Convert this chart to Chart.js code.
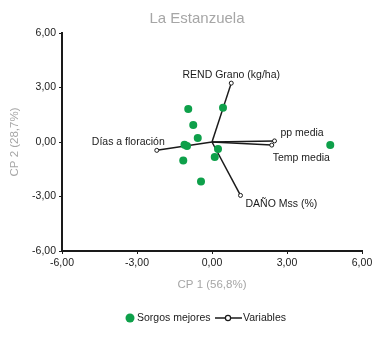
<!DOCTYPE html>
<html>
<head>
<meta charset="utf-8">
<script src="https://cdn.jsdelivr.net/npm/chart.js@4.4.1/dist/chart.umd.min.js"></script>
<style>
  html, body { margin: 0; padding: 0; background: #fff; }
  #wrap { width: 384px; height: 337px; }
</style>
</head>
<body>
<div id="wrap"><canvas id="biplot" width="384" height="337"></canvas></div>
<script>
/* ── Data ─────────────────────────────────── */
// scores of the selected sorghums (CP 1, CP 2)
const scoreX = [-0.95, 0.44, -0.75, -0.57, -1.10, -1.00, 0.24, 0.11, -1.15, -0.44, 4.73];
const scoreY = [1.82, 1.89, 0.94, 0.22, -0.15, -0.22, -0.39, -0.83, -1.02, -2.17, -0.17];

// variable loadings
const varNames = ['REND Grano (kg/ha)', 'pp media', 'Temp media', 'DAÑO Mss (%)', 'Días a floración'];
const varX = [0.77, 2.50, 2.39, 1.14, -2.21];
const varY = [3.24, 0.06, -0.17, -2.94, -0.46];

const axisTicks = [-6, -3, 0, 3, 6];

/* ── Styling ──────────────────────────────── */
const GREEN = '#0ea04a';
const INK = '#1a1a1a';
const GREY = '#a6a6a6';
const FONT = "'Liberation Sans', Arial, sans-serif";
// label offset (px) from the arrow tip and text alignment
const labelPlace = [
    { dx: 0, dy: -8, align: 'center' },
    { dx: 6, dy: -8, align: 'left' },
    { dx: 1, dy: 13, align: 'left' },
    { dx: 5, dy: 9, align: 'left' },
    { dx: 8, dy: -8, align: 'right' }
];

const fmtTick = v => v.toFixed(2).replace('.', ',');

/* ── Datasets ─────────────────────────────── */
const datasets = [{
    label: 'Sorgos mejores',
    type: 'scatter',
    data: scoreX.map((x, i) => ({ x, y: scoreY[i] })),
    backgroundColor: GREEN,
    borderColor: GREEN,
    pointRadius: 4,
    borderWidth: 0
}];
varNames.forEach((name, i) => {
    datasets.push({
        label: name,
        type: 'line',
        data: [{ x: 0, y: 0 }, { x: varX[i], y: varY[i] }],
        borderColor: INK,
        borderWidth: 1.5,
        pointRadius: [0, 2],
        pointBackgroundColor: '#fff',
        pointBorderColor: INK,
        pointBorderWidth: 1,
        fill: false
    });
});

/* ── Plugins ──────────────────────────────── */
const headline = {
    id: 'headline',
    afterDraw(chart) {
        const { ctx } = chart;
        ctx.save();
        ctx.font = `15px ${FONT}`;
        ctx.fillStyle = GREY;
        ctx.textAlign = 'center';
        ctx.textBaseline = 'middle';
        ctx.fillText('La Estanzuela', 197, 19);
        ctx.restore();
    }
};

const varLabels = {
    id: 'varLabels',
    afterDatasetsDraw(chart) {
        const { ctx, scales: { x, y } } = chart;
        ctx.save();
        ctx.font = `10.5px ${FONT}`;
        ctx.fillStyle = INK;
        ctx.textBaseline = 'middle';
        varNames.forEach((name, i) => {
            const p = labelPlace[i];
            ctx.textAlign = p.align;
            ctx.fillText(name, x.getPixelForValue(varX[i]) + p.dx, y.getPixelForValue(varY[i]) + p.dy);
        });
        ctx.restore();
    }
};

const legendRow = {
    id: 'legendRow',
    afterDraw(chart) {
        const { ctx } = chart;
        const yMid = 318;
        ctx.save();
        ctx.font = `10.5px ${FONT}`;
        ctx.textBaseline = 'middle';
        ctx.textAlign = 'left';

        ctx.beginPath();
        ctx.arc(130, yMid, 4.5, 0, Math.PI * 2);
        ctx.fillStyle = GREEN;
        ctx.fill();
        ctx.fillStyle = INK;
        ctx.fillText('Sorgos mejores', 137, yMid);

        ctx.strokeStyle = INK;
        ctx.lineWidth = 1.5;
        ctx.beginPath();
        ctx.moveTo(215, yMid);
        ctx.lineTo(242, yMid);
        ctx.stroke();
        ctx.beginPath();
        ctx.arc(228, yMid, 2.6, 0, Math.PI * 2);
        ctx.fillStyle = '#fff';
        ctx.fill();
        ctx.lineWidth = 1.2;
        ctx.stroke();
        ctx.fillStyle = INK;
        ctx.fillText('Variables', 243, yMid);
        ctx.restore();
    }
};

/* ── Chart ────────────────────────────────── */
const axisBase = {
    type: 'linear',
    min: -6,
    max: 6,
    afterBuildTicks: s => { s.ticks = axisTicks.map(v => ({ value: v })); },
    border: { color: INK, width: 2 },
    grid: { drawOnChartArea: false, drawTicks: true, tickLength: 3, color: INK },
    ticks: { color: INK, padding: 3, font: { family: FONT, size: 10.5 }, callback: v => fmtTick(v) }
};

new Chart(document.getElementById('biplot'), {
    data: { datasets },
    options: {
        responsive: false,
        animation: false,
        layout: { padding: { left: 8, right: 22, top: 33, bottom: 36 } },
        plugins: {
            legend: { display: false },
            tooltip: { enabled: false }
        },
        scales: {
            x: {
                ...axisBase,
                position: 'bottom',
                afterFit: s => { s.height = 50; },
                title: {
                    display: true,
                    text: 'CP 1 (56,8%)',
                    color: GREY,
                    font: { family: FONT, size: 11.5 },
                    padding: { top: 0, bottom: 9 }
                }
            },
            y: {
                ...axisBase,
                position: 'left',
                afterFit: s => { s.width = 54; },
                title: {
                    display: true,
                    text: 'CP 2 (28,7%)',
                    color: GREY,
                    font: { family: FONT, size: 11.5 },
                    padding: { top: 0, bottom: 0 }
                }
            }
        }
    },
    plugins: [headline, varLabels, legendRow]
});
</script>
</body>
</html>
